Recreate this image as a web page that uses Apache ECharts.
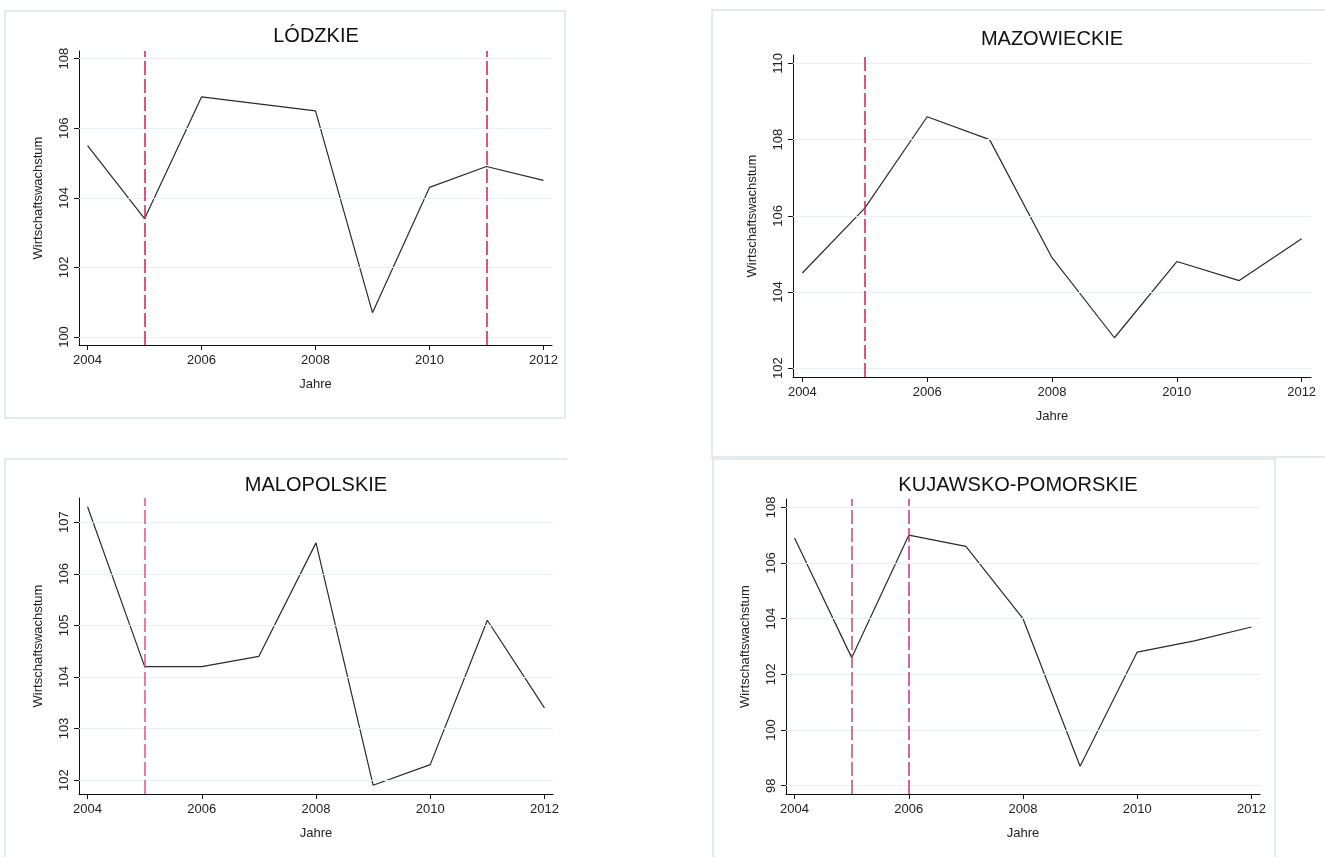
<!DOCTYPE html>
<html>
<head>
<meta charset="utf-8">
<script src="https://cdn.jsdelivr.net/npm/echarts@6/dist/echarts.min.js"></script>
<style>
html,body{margin:0;padding:0;background:#fff;}
#c{width:1325px;height:857px;}
</style>
</head>
<body>
<div id="c"></div>
<script>
// ---- data ----
const years = [2004, 2005, 2006, 2007, 2008, 2009, 2010, 2011, 2012];
const xTicks = [2004, 2006, 2008, 2010, 2012];

const titles = ['LÓDZKIE', 'MAZOWIECKIE', 'MALOPOLSKIE', 'KUJAWSKO-POMORSKIE'];
const lodzkie     = [105.5, 103.4, 106.9, 106.7, 106.5, 100.7, 104.3, 104.9, 104.5];
const mazowieckie = [104.5, 106.2, 108.6, 108.0, 104.9, 102.8, 104.8, 104.3, 105.4];
const malopolskie = [107.3, 104.2, 104.2, 104.4, 106.6, 101.9, 102.3, 105.1, 103.4];
const kujawsko    = [106.9, 102.6, 107.0, 106.6, 104.0, 98.7, 102.8, 103.2, 103.7];

const lodzTicks = [100, 102, 104, 106, 108];
const mazTicks  = [102, 104, 106, 108, 110];
const maloTicks = [102, 103, 104, 105, 106, 107];
const kujTicks  = [98, 100, 102, 104, 106, 108];

const lodzBreaks = [2005, 2011];
const mazBreaks  = [2005];
const maloBreaks = [2005];
const kujBreaks  = [2005, 2006];

const xName = 'Jahre';
const yName = 'Wirtschaftswachstum';

// ---- layout / style ----
const panels = [
  {title: titles[0], vals: lodzkie, ticks: lodzTicks, breaks: lodzBreaks, breakColors: ['#d81e4e', '#d81e4e'],
   grid: {left: 79, top: 51, width: 473, height: 294}, yMin: 99.77, yMax: 108.22, titleX: 311, titleY: 21},
  {title: titles[1], vals: mazowieckie, ticks: mazTicks, breaks: mazBreaks, breakColors: ['#d81e4e'],
   grid: {left: 793, top: 55, width: 518, height: 322}, yMin: 101.77, yMax: 110.22, titleX: 1047, titleY: 24},
  {title: titles[2], vals: malopolskie, ticks: maloTicks, breaks: maloBreaks, breakColors: ['#e4508a'],
   grid: {left: 79, top: 498, width: 474, height: 296}, yMin: 101.73, yMax: 107.47, titleX: 311, titleY: 470},
  {title: titles[3], vals: kujawsko, ticks: kujTicks, breaks: kujBreaks, breakColors: ['#b8506e', '#d8326a'],
   grid: {left: 786, top: 499, width: 474, height: 295}, yMin: 97.7, yMax: 108.3, titleX: 1013, titleY: 470}
];

const FONT = 'Liberation Sans, Arial, sans-serif';
const BORDER = '#e3ebee';
const option = {
  animation: false,
  backgroundColor: '#ffffff',
  title: [], grid: [], xAxis: [], yAxis: [], series: [],
  graphic: [
    {type: 'rect', shape: {x: 5, y: 11, width: 560, height: 407}, style: {fill: 'none', stroke: BORDER, lineWidth: 2}, z: -10},
    {type: 'rect', shape: {x: 712, y: 10, width: 640, height: 447}, style: {fill: 'none', stroke: BORDER, lineWidth: 2}, z: -10},
    {type: 'polyline', shape: {points: [[5, 870], [5, 459], [567, 459]]}, style: {fill: 'none', stroke: BORDER, lineWidth: 2}, z: -10},
    {type: 'rect', shape: {x: 713, y: 459, width: 562, height: 420}, style: {fill: 'none', stroke: BORDER, lineWidth: 2}, z: -10}
  ]
};

panels.forEach((p, i) => {
  option.title.push({
    text: p.title, left: p.titleX, top: p.titleY, textAlign: 'center',
    textStyle: {fontFamily: FONT, fontSize: 20, fontWeight: 'normal', color: '#111'}
  });
  option.grid.push(Object.assign({containLabel: false}, p.grid));
  option.xAxis.push({
    type: 'value', gridIndex: i, min: 2003.85, max: 2012.15,
    name: xName, nameLocation: 'middle', nameGap: 33,
    nameTextStyle: {fontFamily: FONT, fontSize: 13, color: '#222'},
    axisLine: {show: true, onZero: false, lineStyle: {color: '#111', width: 1}},
    axisTick: {show: true, length: 5, customValues: xTicks, lineStyle: {color: '#111'}},
    axisLabel: {customValues: xTicks, margin: 9, fontFamily: FONT, fontSize: 13, color: '#222', formatter: v => String(v)},
    splitLine: {show: false}
  });
  option.yAxis.push({
    type: 'value', gridIndex: i, min: p.yMin, max: p.yMax,
    name: yName, nameLocation: 'middle', nameGap: 34,
    nameTextStyle: {fontFamily: FONT, fontSize: 13, color: '#222'},
    axisLine: {show: true, onZero: false, lineStyle: {color: '#111', width: 1}},
    axisTick: {show: true, length: 5, customValues: p.ticks, lineStyle: {color: '#111'}},
    axisLabel: {customValues: p.ticks, rotate: 90, margin: 8, fontFamily: FONT, fontSize: 13, color: '#222', formatter: v => String(v)},
    splitLine: {show: false}
  });
  // gridlines
  option.series.push({
    type: 'line', xAxisIndex: i, yAxisIndex: i, data: [], silent: true, z: 1,
    markLine: {
      silent: true, symbol: ['none', 'none'], label: {show: false}, animation: false,
      lineStyle: {color: '#e8eff1', width: 1, type: 'solid'},
      data: p.ticks.map(v => ({yAxis: v}))
    }
  });
  // data line
  option.series.push({
    type: 'line', xAxisIndex: i, yAxisIndex: i, z: 3,
    data: years.map((y, k) => [y, p.vals[k]]),
    showSymbol: false, symbol: 'none',
    lineStyle: {color: '#2a2a2a', width: 1.2}
  });
  // vertical dashed break lines
  option.series.push({
    type: 'line', xAxisIndex: i, yAxisIndex: i, data: [], silent: true, z: 4,
    markLine: {
      silent: true, symbol: ['none', 'none'], label: {show: false}, animation: false,
      data: p.breaks.map((b, k) => ({xAxis: b, lineStyle: {color: p.breakColors[k], width: 1.5, type: [14, 4]}}))
    }
  });
});

const chart = echarts.init(document.getElementById('c'), null, {renderer: 'canvas'});
chart.setOption(option);
</script>
</body>
</html>
